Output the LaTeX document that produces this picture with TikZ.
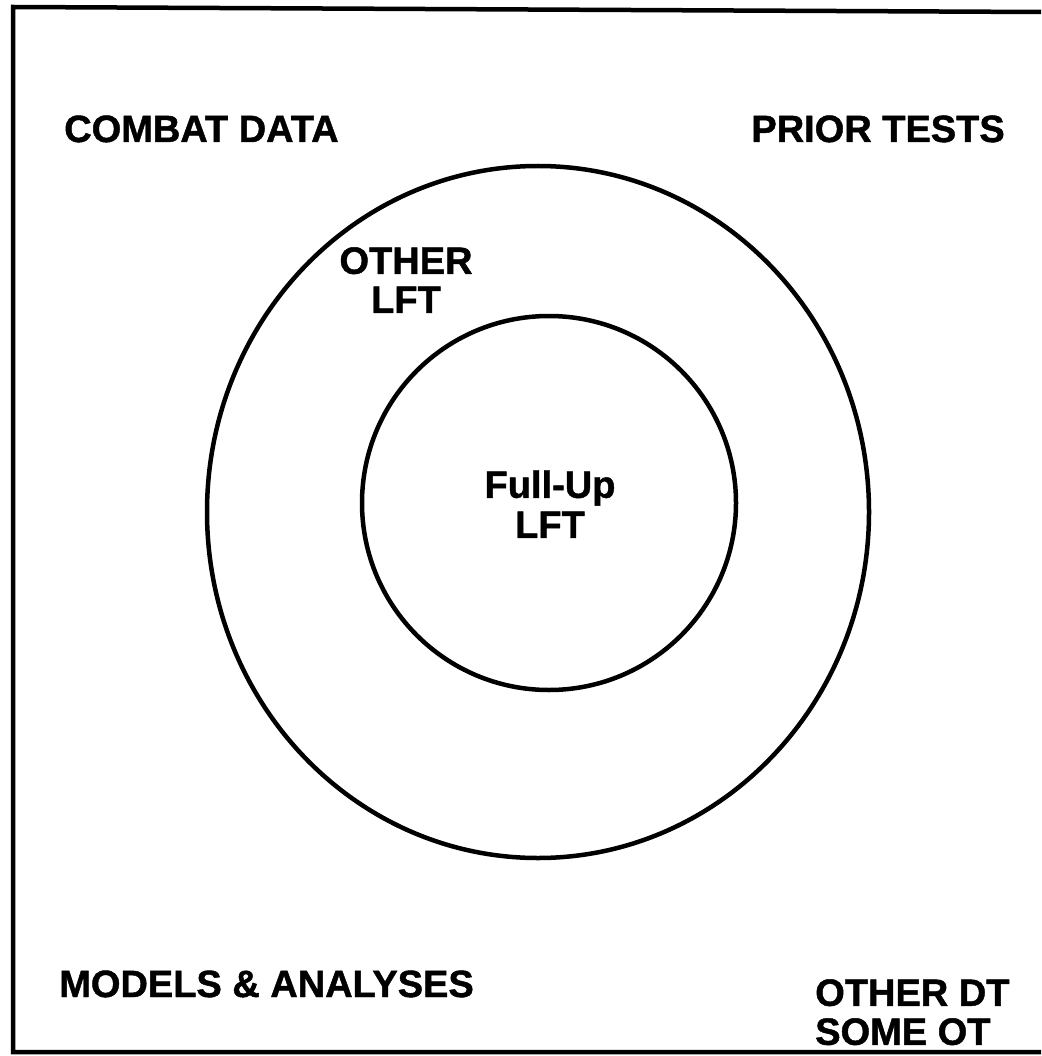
\documentclass[tikz,border=0pt]{standalone}
\usepackage{fontspec}
\setmainfont{Liberation Sans}[BoldFeatures={FakeBold=1.2}]
\usetikzlibrary{positioning,shapes.geometric}

\begin{document}
\begin{tikzpicture}[x=1pt, y=-1pt, line width=4.5pt,
    lbl/.style={inner sep=0pt, font=\bfseries\fontsize{38}{39}\selectfont},
    ring/.style={draw, ellipse, inner sep=0pt}]
    \useasboundingbox (0,0) rectangle (1041,1056);
    % Frame
    \draw (1041,12) -- (13,7) -- (13,1052) -- (1041,1052);

    % Rings
    \node[ring, minimum width=662pt, minimum height=692pt] (outer) at (538,512) {};
    \node[ring, minimum size=374pt] (inner) at (549,503) {};

    % Labels
    \node[lbl, anchor=base west] (combat) at (62,142) {COMBAT DATA};
    \node[lbl, anchor=base east] (prior) at (1007,142) {PRIOR TESTS};
    \node[lbl, align=center, anchor=north] (otherlft) at (406,245) {OTHER\\LFT};
    \node[lbl, align=center, anchor=north, font=\bfseries\fontsize{38}{40}\selectfont] (fullup) at (550,468) {Full-Up\\LFT};
    \node[lbl, anchor=base west] (models) at (57,997) {MODELS \& ANALYSES};
    \node[lbl, align=left, anchor=north west] (otherdt) at (813,977) {OTHER DT\\SOME OT};
\end{tikzpicture}
\end{document}
